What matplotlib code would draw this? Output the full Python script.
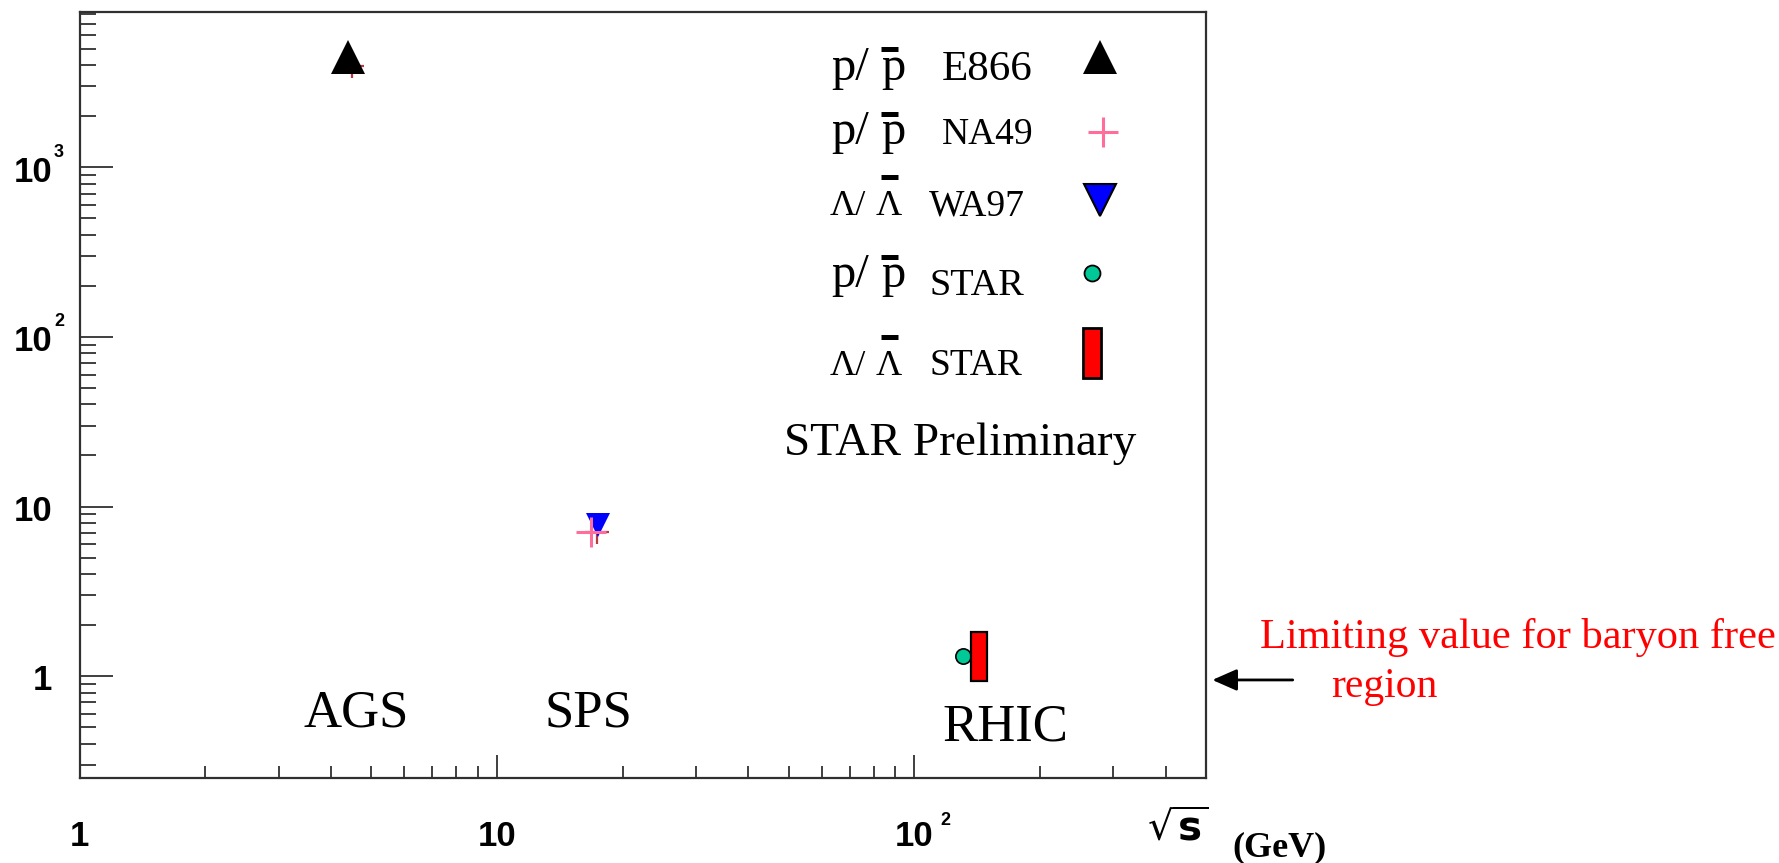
import matplotlib
matplotlib.use('Agg')
import matplotlib.pyplot as plt
import matplotlib.transforms as mtransforms
from matplotlib.ticker import LogLocator, NullFormatter
import numpy as np

W, H, DPI = 1779, 863, 100

# ---------------- data ----------------
e866_x, e866_y = [4.4], [4480.0]          # p/pbar E866 (AGS)
na49_x, na49_y = [16.8], [7.06]           # p/pbar NA49 (SPS)
wa97_x, wa97_y = [17.5], [7.8]            # Lambda/Lambdabar WA97 (SPS)
starp_x, starp_y = [131.0], [1.31]        # p/pbar STAR (RHIC)
starl_x, starl_lo, starl_hi = [143.0], [0.94], [1.82]   # Lambda/Lambdabar STAR range
hidden_x, hidden_y = [4.49, 17.4], [3960.0, 7.1]        # partly hidden crosses
limit_value = 0.95
accel_names = ['AGS', 'SPS', 'RHIC']
accel_x = [4.59, 16.6, 165.0]
accel_y = [0.508, 0.505, 0.415]

xtick_vals = [1, 10, 100]
xtick_base = ['1', '10', '10']
xtick_exp = ['', '', '2']
ytick_vals = [1, 10, 100, 1000]
ytick_base = ['1', '10', '10', '10']
ytick_exp = ['', '', '2', '3']

legend_rows = [
    ('p', 'E866'),
    ('p', 'NA49'),
    ('Λ', 'WA97'),
    ('p', 'STAR'),
    ('Λ', 'STAR'),
]

SERIF = 'Liberation Serif'
SANS = 'Liberation Sans'
PINK = '#ff6e9a'
TEAL = '#00c896'
DARKRED = '#b83a3a'

matplotlib.rcParams['mathtext.fontset'] = 'dejavusans'

fig = plt.figure(figsize=(W / DPI, H / DPI), dpi=DPI)
fig.patch.set_facecolor('white')

# ---------------- main axes ----------------
ax_l, ax_r, ax_t, ax_b = 79.6, 1206.0, 12.3, 778.3
ax = fig.add_axes([ax_l / W, 1 - ax_b / H, (ax_r - ax_l) / W, (ax_b - ax_t) / H])
ax.set_xscale('log')
ax.set_yscale('log')
ax.set_xlim(1, 500)
ax.set_ylim(0.25, 8200)
for sp in ax.spines.values():
    sp.set_linewidth(1.6)
    sp.set_color('#303030')

for a in (ax.xaxis, ax.yaxis):
    a.set_major_locator(LogLocator(base=10, numticks=20))
    a.set_minor_locator(LogLocator(base=10, subs=np.arange(2, 10), numticks=50))
    a.set_major_formatter(NullFormatter())
    a.set_minor_formatter(NullFormatter())

ax.tick_params(axis='x', which='major', direction='in', length=16.5, width=1.3,
               color='#303030', top=False, bottom=True)
ax.tick_params(axis='x', which='minor', direction='in', length=8.6, width=1.3,
               color='#303030', top=False, bottom=True)
ax.tick_params(axis='y', which='major', direction='in', length=24, width=1.3,
               color='#303030', left=True, right=False)
ax.tick_params(axis='y', which='minor', direction='in', length=11.3, width=1.3,
               color='#303030', left=True, right=False)

# data markers
ax.plot(hidden_x, hidden_y, linestyle='none', marker='+', ms=17, mew=1.6,
        color=DARKRED, zorder=3, clip_on=False)
ax.plot(e866_x, e866_y, linestyle='none', marker='^', ms=24, color='black',
        mec='black', mew=0, zorder=4)
ax.plot(wa97_x, wa97_y, linestyle='none', marker='v', ms=17, color='#0000ff',
        mew=0, zorder=4)
ax.plot(na49_x, na49_y, linestyle='none', marker='+', ms=21, mew=2.2,
        color=PINK, zorder=5)
ax.plot(starp_x, starp_y, linestyle='none', marker='o', ms=11, color=TEAL,
        mec='black', mew=1.2, zorder=4)
half = 10 ** (8.3 / 417.7)
for xc, lo, hi in zip(starl_x, starl_lo, starl_hi):
    ax.bar(xc / half, hi - lo, width=xc * half - xc / half, bottom=lo, align='edge',
           color='#ff0000', edgecolor='black', linewidth=1.6, zorder=5)

for name, xx, yy in zip(accel_names, accel_x, accel_y):
    ax.text(xx, yy, name, ha='center', va='baseline', fontsize=38,
            family=SERIF, color='black')

# tick labels (ROOT style)
xtr = ax.get_xaxis_transform()
xexp_tr = mtransforms.offset_copy(xtr, fig=fig, x=26, y=0, units='dots')
for v, b, e in zip(xtick_vals, xtick_base, xtick_exp):
    ax.text(v, -0.089, b, transform=xtr, ha='center', va='baseline',
            fontsize=25, family=SANS, fontweight='bold', clip_on=False)
    if e:
        ax.text(v, -0.061, e, transform=xexp_tr, ha='left', va='baseline',
                fontsize=13, family=SANS, fontweight='bold', clip_on=False)

ytr = ax.get_yaxis_transform()
ybase_tr = mtransforms.offset_copy(ytr, fig=fig, x=0, y=-14.3, units='dots')
yexp_tr = mtransforms.offset_copy(ytr, fig=fig, x=0, y=10.7, units='dots')
for v, b, e in zip(ytick_vals, ytick_base, ytick_exp):
    ax.text(-0.0245, v, b, transform=ybase_tr, ha='right', va='baseline',
            fontsize=25, family=SANS, fontweight='bold', clip_on=False)
    if e:
        ax.text(-0.0228, v, e, transform=yexp_tr, ha='left', va='baseline',
                fontsize=13, family=SANS, fontweight='bold', clip_on=False)

# arrow to limiting value
ax.annotate('', xy=(1.0056, limit_value), xycoords=('axes fraction', 'data'),
            xytext=(1.077, limit_value), textcoords=('axes fraction', 'data'),
            arrowprops=dict(arrowstyle='-|>,head_length=0.75,head_width=0.33',
                            mutation_scale=20, lw=2, color='black',
                            shrinkA=0, shrinkB=0),
            annotation_clip=False)

# ---------------- overlay in pixel coordinates ----------------
ov = fig.add_axes([0, 0, 1, 1], facecolor='none')
ov.set_xlim(0, W)
ov.set_ylim(H, 0)
ov.axis('off')

row_base = [80, 144, 215, 286.7, 375]
lab_base = [80, 144, 215, 295, 375]
bar_y = [49.2, 113.8, 177.2, 257.2, 337.5]
lab_x = [942, 942, 929, 929, 929]
lab_fs = [31, 27, 27, 27.5, 27]
for (sym, lab), yb, yl, yb_bar, lx, fs in zip(legend_rows, row_base, lab_base,
                                             bar_y, lab_x, lab_fs):
    if sym == 'p':
        ov.text(831.7, yb, 'p/', fontsize=35, family=SERIF, ha='left', va='baseline')
        ov.text(881, yb, 'p', fontsize=35, family=SERIF, ha='left', va='baseline')
    else:
        ov.text(830, yb, 'Λ/', fontsize=26, family=SERIF, ha='left', va='baseline')
        ov.text(876, yb, 'Λ', fontsize=26, family=SERIF, ha='left', va='baseline')
    ov.plot([881, 898], [yb_bar, yb_bar], color='black', lw=3.6,
            solid_capstyle='butt')
    ov.text(lx, yl, lab, fontsize=fs, family=SERIF, ha='left', va='baseline')

ov.plot([1100], [57], marker='^', ms=24, color='black', mew=0, linestyle='none')
ov.plot([1102.5], [132], marker='+', ms=21, mew=2.2, color=PINK, linestyle='none')
ov.plot([1100], [200.5], marker='v', ms=23.5, color='#0000ff', mec='black',
        mew=1.5, linestyle='none')
ov.plot([1091.7], [273.3], marker='o', ms=11.5, color=TEAL, mec='black', mew=1.3,
        linestyle='none')
ov.add_patch(plt.Rectangle((1083, 328), 17.7, 50, facecolor='#ff0000',
                           edgecolor='black', lw=2))

ov.text(784, 455, 'STAR Preliminary', fontsize=34, family=SERIF, ha='left',
        va='baseline')
ov.text(1260, 648.3, 'Limiting value for baryon free', fontsize=30.5,
        family=SERIF, color='#ff0000', ha='left', va='baseline')
ov.text(1331, 696.7, 'region', fontsize=30, family=SERIF, color='#ff0000',
        ha='left', va='baseline')

ov.text(1178, 840, r'$\sqrt{\mathbf{s}}$', fontsize=29, ha='center',
        va='baseline')
ov.text(1279, 856, '(GeV)', fontsize=26, family=SERIF, fontweight='bold',
        ha='center', va='baseline')

fig.savefig('out.png', dpi=DPI, facecolor='white')
